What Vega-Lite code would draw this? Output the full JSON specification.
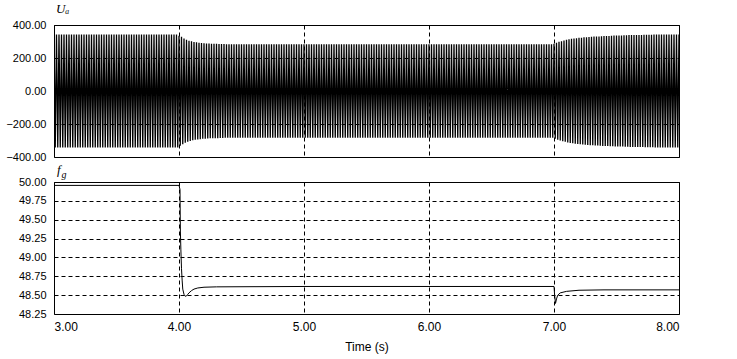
{
  "$schema": "https://vega.github.io/schema/vega-lite/v6.json",
  "background": "white",
  "padding": {"left": 5, "top": 2, "right": 5, "bottom": 2},
  "config": {
    "font": "Liberation Sans",
    "view": {"stroke": "black", "strokeWidth": 1},
    "axis": {"labelFont": "Liberation Sans", "labelFontSize": 11, "labelColor": "black", "ticks": false, "domain": false, "grid": true, "gridColor": "black", "gridDash": [4, 3], "gridOpacity": 1, "gridWidth": 1, "labelPadding": 8},
    "concat": {"spacing": 0}
  },
  "datasets": {
    "u": [
{"t":3.00,"u":342},{"t":3.01,"u":-342},{"t":3.02,"u":342},{"t":3.03,"u":-342},{"t":3.04,"u":342},{"t":3.05,"u":-342},{"t":3.06,"u":342},{"t":3.07,"u":-342},{"t":3.08,"u":342},{"t":3.09,"u":-342},
{"t":3.10,"u":342},{"t":3.11,"u":-342},{"t":3.12,"u":342},{"t":3.13,"u":-342},{"t":3.14,"u":342},{"t":3.15,"u":-342},{"t":3.16,"u":342},{"t":3.17,"u":-342},{"t":3.18,"u":342},{"t":3.19,"u":-342},
{"t":3.20,"u":342},{"t":3.21,"u":-342},{"t":3.22,"u":342},{"t":3.23,"u":-342},{"t":3.24,"u":342},{"t":3.25,"u":-342},{"t":3.26,"u":342},{"t":3.27,"u":-342},{"t":3.28,"u":342},{"t":3.29,"u":-342},
{"t":3.30,"u":342},{"t":3.31,"u":-342},{"t":3.32,"u":342},{"t":3.33,"u":-342},{"t":3.34,"u":342},{"t":3.35,"u":-342},{"t":3.36,"u":342},{"t":3.37,"u":-342},{"t":3.38,"u":342},{"t":3.39,"u":-342},
{"t":3.40,"u":342},{"t":3.41,"u":-342},{"t":3.42,"u":342},{"t":3.43,"u":-342},{"t":3.44,"u":342},{"t":3.45,"u":-342},{"t":3.46,"u":342},{"t":3.47,"u":-342},{"t":3.48,"u":342},{"t":3.49,"u":-342},
{"t":3.50,"u":342},{"t":3.51,"u":-342},{"t":3.52,"u":342},{"t":3.53,"u":-342},{"t":3.54,"u":342},{"t":3.55,"u":-342},{"t":3.56,"u":342},{"t":3.57,"u":-342},{"t":3.58,"u":342},{"t":3.59,"u":-342},
{"t":3.60,"u":342},{"t":3.61,"u":-342},{"t":3.62,"u":342},{"t":3.63,"u":-342},{"t":3.64,"u":342},{"t":3.65,"u":-342},{"t":3.66,"u":342},{"t":3.67,"u":-342},{"t":3.68,"u":342},{"t":3.69,"u":-342},
{"t":3.70,"u":342},{"t":3.71,"u":-342},{"t":3.72,"u":342},{"t":3.73,"u":-342},{"t":3.74,"u":342},{"t":3.75,"u":-342},{"t":3.76,"u":342},{"t":3.77,"u":-342},{"t":3.78,"u":342},{"t":3.79,"u":-342},
{"t":3.80,"u":342},{"t":3.81,"u":-342},{"t":3.82,"u":342},{"t":3.83,"u":-342},{"t":3.84,"u":342},{"t":3.85,"u":-342},{"t":3.86,"u":342},{"t":3.87,"u":-342},{"t":3.88,"u":342},{"t":3.89,"u":-342},
{"t":3.90,"u":342},{"t":3.91,"u":-342},{"t":3.92,"u":342},{"t":3.93,"u":-342},{"t":3.94,"u":342},{"t":3.95,"u":-342},{"t":3.96,"u":342},{"t":3.97,"u":-342},{"t":3.98,"u":342},{"t":3.99,"u":-342},
{"t":4.00,"u":335},{"t":4.01,"u":-332},{"t":4.02,"u":328},{"t":4.03,"u":-322},{"t":4.04,"u":318},{"t":4.05,"u":-314},{"t":4.06,"u":311},{"t":4.07,"u":-308},{"t":4.08,"u":305},{"t":4.09,"u":-303},
{"t":4.10,"u":301},{"t":4.11,"u":-299},{"t":4.12,"u":297},{"t":4.13,"u":-296},{"t":4.14,"u":295},{"t":4.15,"u":-294},{"t":4.16,"u":293},{"t":4.17,"u":-292},{"t":4.18,"u":291},{"t":4.19,"u":-290},
{"t":4.20,"u":289},{"t":4.21,"u":-289},{"t":4.22,"u":288},{"t":4.23,"u":-288},{"t":4.24,"u":288},{"t":4.25,"u":-287},{"t":4.26,"u":287},{"t":4.27,"u":-287},{"t":4.28,"u":286},{"t":4.29,"u":-286},
{"t":4.30,"u":286},{"t":4.31,"u":-286},{"t":4.32,"u":285},{"t":4.33,"u":-285},{"t":4.34,"u":285},{"t":4.35,"u":-285},{"t":4.36,"u":285},{"t":4.37,"u":-284},{"t":4.38,"u":284},{"t":4.39,"u":-284},
{"t":4.40,"u":284},{"t":4.41,"u":-284},{"t":4.42,"u":284},{"t":4.43,"u":-284},{"t":4.44,"u":284},{"t":4.45,"u":-284},{"t":4.46,"u":284},{"t":4.47,"u":-284},{"t":4.48,"u":284},{"t":4.49,"u":-284},
{"t":4.50,"u":284},{"t":4.51,"u":-284},{"t":4.52,"u":284},{"t":4.53,"u":-284},{"t":4.54,"u":284},{"t":4.55,"u":-284},{"t":4.56,"u":284},{"t":4.57,"u":-284},{"t":4.58,"u":284},{"t":4.59,"u":-284},
{"t":4.60,"u":284},{"t":4.61,"u":-284},{"t":4.62,"u":284},{"t":4.63,"u":-284},{"t":4.64,"u":284},{"t":4.65,"u":-284},{"t":4.66,"u":284},{"t":4.67,"u":-284},{"t":4.68,"u":284},{"t":4.69,"u":-284},
{"t":4.70,"u":284},{"t":4.71,"u":-284},{"t":4.72,"u":284},{"t":4.73,"u":-284},{"t":4.74,"u":284},{"t":4.75,"u":-284},{"t":4.76,"u":284},{"t":4.77,"u":-284},{"t":4.78,"u":284},{"t":4.79,"u":-284},
{"t":4.80,"u":284},{"t":4.81,"u":-284},{"t":4.82,"u":284},{"t":4.83,"u":-284},{"t":4.84,"u":284},{"t":4.85,"u":-284},{"t":4.86,"u":284},{"t":4.87,"u":-284},{"t":4.88,"u":284},{"t":4.89,"u":-284},
{"t":4.90,"u":284},{"t":4.91,"u":-284},{"t":4.92,"u":284},{"t":4.93,"u":-284},{"t":4.94,"u":284},{"t":4.95,"u":-284},{"t":4.96,"u":284},{"t":4.97,"u":-284},{"t":4.98,"u":284},{"t":4.99,"u":-284},
{"t":5.00,"u":284},{"t":5.01,"u":-284},{"t":5.02,"u":284},{"t":5.03,"u":-284},{"t":5.04,"u":284},{"t":5.05,"u":-284},{"t":5.06,"u":284},{"t":5.07,"u":-284},{"t":5.08,"u":284},{"t":5.09,"u":-284},
{"t":5.10,"u":284},{"t":5.11,"u":-284},{"t":5.12,"u":284},{"t":5.13,"u":-284},{"t":5.14,"u":284},{"t":5.15,"u":-284},{"t":5.16,"u":284},{"t":5.17,"u":-284},{"t":5.18,"u":284},{"t":5.19,"u":-284},
{"t":5.20,"u":284},{"t":5.21,"u":-284},{"t":5.22,"u":284},{"t":5.23,"u":-284},{"t":5.24,"u":284},{"t":5.25,"u":-284},{"t":5.26,"u":284},{"t":5.27,"u":-284},{"t":5.28,"u":284},{"t":5.29,"u":-284},
{"t":5.30,"u":284},{"t":5.31,"u":-284},{"t":5.32,"u":284},{"t":5.33,"u":-284},{"t":5.34,"u":284},{"t":5.35,"u":-284},{"t":5.36,"u":284},{"t":5.37,"u":-284},{"t":5.38,"u":284},{"t":5.39,"u":-284},
{"t":5.40,"u":284},{"t":5.41,"u":-284},{"t":5.42,"u":284},{"t":5.43,"u":-284},{"t":5.44,"u":284},{"t":5.45,"u":-284},{"t":5.46,"u":284},{"t":5.47,"u":-284},{"t":5.48,"u":284},{"t":5.49,"u":-284},
{"t":5.50,"u":284},{"t":5.51,"u":-284},{"t":5.52,"u":284},{"t":5.53,"u":-284},{"t":5.54,"u":284},{"t":5.55,"u":-284},{"t":5.56,"u":284},{"t":5.57,"u":-284},{"t":5.58,"u":284},{"t":5.59,"u":-284},
{"t":5.60,"u":284},{"t":5.61,"u":-284},{"t":5.62,"u":284},{"t":5.63,"u":-284},{"t":5.64,"u":284},{"t":5.65,"u":-284},{"t":5.66,"u":284},{"t":5.67,"u":-284},{"t":5.68,"u":284},{"t":5.69,"u":-284},
{"t":5.70,"u":284},{"t":5.71,"u":-284},{"t":5.72,"u":284},{"t":5.73,"u":-284},{"t":5.74,"u":284},{"t":5.75,"u":-284},{"t":5.76,"u":284},{"t":5.77,"u":-284},{"t":5.78,"u":284},{"t":5.79,"u":-284},
{"t":5.80,"u":284},{"t":5.81,"u":-284},{"t":5.82,"u":284},{"t":5.83,"u":-284},{"t":5.84,"u":284},{"t":5.85,"u":-284},{"t":5.86,"u":284},{"t":5.87,"u":-284},{"t":5.88,"u":284},{"t":5.89,"u":-284},
{"t":5.90,"u":284},{"t":5.91,"u":-284},{"t":5.92,"u":284},{"t":5.93,"u":-284},{"t":5.94,"u":284},{"t":5.95,"u":-284},{"t":5.96,"u":284},{"t":5.97,"u":-284},{"t":5.98,"u":284},{"t":5.99,"u":-284},
{"t":6.00,"u":284},{"t":6.01,"u":-284},{"t":6.02,"u":284},{"t":6.03,"u":-284},{"t":6.04,"u":284},{"t":6.05,"u":-284},{"t":6.06,"u":284},{"t":6.07,"u":-284},{"t":6.08,"u":284},{"t":6.09,"u":-284},
{"t":6.10,"u":284},{"t":6.11,"u":-284},{"t":6.12,"u":284},{"t":6.13,"u":-284},{"t":6.14,"u":284},{"t":6.15,"u":-284},{"t":6.16,"u":284},{"t":6.17,"u":-284},{"t":6.18,"u":284},{"t":6.19,"u":-284},
{"t":6.20,"u":284},{"t":6.21,"u":-284},{"t":6.22,"u":284},{"t":6.23,"u":-284},{"t":6.24,"u":284},{"t":6.25,"u":-284},{"t":6.26,"u":284},{"t":6.27,"u":-284},{"t":6.28,"u":284},{"t":6.29,"u":-284},
{"t":6.30,"u":284},{"t":6.31,"u":-284},{"t":6.32,"u":284},{"t":6.33,"u":-284},{"t":6.34,"u":284},{"t":6.35,"u":-284},{"t":6.36,"u":284},{"t":6.37,"u":-284},{"t":6.38,"u":284},{"t":6.39,"u":-284},
{"t":6.40,"u":284},{"t":6.41,"u":-284},{"t":6.42,"u":284},{"t":6.43,"u":-284},{"t":6.44,"u":284},{"t":6.45,"u":-284},{"t":6.46,"u":284},{"t":6.47,"u":-284},{"t":6.48,"u":284},{"t":6.49,"u":-284},
{"t":6.50,"u":284},{"t":6.51,"u":-284},{"t":6.52,"u":284},{"t":6.53,"u":-284},{"t":6.54,"u":284},{"t":6.55,"u":-284},{"t":6.56,"u":284},{"t":6.57,"u":-284},{"t":6.58,"u":284},{"t":6.59,"u":-284},
{"t":6.60,"u":284},{"t":6.61,"u":-284},{"t":6.62,"u":284},{"t":6.63,"u":-284},{"t":6.64,"u":284},{"t":6.65,"u":-284},{"t":6.66,"u":284},{"t":6.67,"u":-284},{"t":6.68,"u":284},{"t":6.69,"u":-284},
{"t":6.70,"u":284},{"t":6.71,"u":-284},{"t":6.72,"u":284},{"t":6.73,"u":-284},{"t":6.74,"u":284},{"t":6.75,"u":-284},{"t":6.76,"u":284},{"t":6.77,"u":-284},{"t":6.78,"u":284},{"t":6.79,"u":-284},
{"t":6.80,"u":284},{"t":6.81,"u":-284},{"t":6.82,"u":284},{"t":6.83,"u":-284},{"t":6.84,"u":284},{"t":6.85,"u":-284},{"t":6.86,"u":284},{"t":6.87,"u":-284},{"t":6.88,"u":284},{"t":6.89,"u":-284},
{"t":6.90,"u":284},{"t":6.91,"u":-284},{"t":6.92,"u":284},{"t":6.93,"u":-284},{"t":6.94,"u":284},{"t":6.95,"u":-284},{"t":6.96,"u":284},{"t":6.97,"u":-284},{"t":6.98,"u":284},{"t":6.99,"u":-284},
{"t":7.00,"u":286},{"t":7.01,"u":-289},{"t":7.02,"u":292},{"t":7.03,"u":-295},{"t":7.04,"u":298},{"t":7.05,"u":-300},{"t":7.06,"u":302},{"t":7.07,"u":-304},{"t":7.08,"u":306},{"t":7.09,"u":-308},
{"t":7.10,"u":311},{"t":7.11,"u":-312},{"t":7.12,"u":314},{"t":7.13,"u":-315},{"t":7.14,"u":316},{"t":7.15,"u":-317},{"t":7.16,"u":318},{"t":7.17,"u":-319},{"t":7.18,"u":320},{"t":7.19,"u":-321},
{"t":7.20,"u":322},{"t":7.21,"u":-323},{"t":7.22,"u":323},{"t":7.23,"u":-324},{"t":7.24,"u":325},{"t":7.25,"u":-325},{"t":7.26,"u":326},{"t":7.27,"u":-327},{"t":7.28,"u":327},{"t":7.29,"u":-328},
{"t":7.30,"u":329},{"t":7.31,"u":-329},{"t":7.32,"u":330},{"t":7.33,"u":-330},{"t":7.34,"u":331},{"t":7.35,"u":-331},{"t":7.36,"u":331},{"t":7.37,"u":-332},{"t":7.38,"u":332},{"t":7.39,"u":-333},
{"t":7.40,"u":333},{"t":7.41,"u":-333},{"t":7.42,"u":334},{"t":7.43,"u":-334},{"t":7.44,"u":334},{"t":7.45,"u":-335},{"t":7.46,"u":335},{"t":7.47,"u":-335},{"t":7.48,"u":336},{"t":7.49,"u":-336},
{"t":7.50,"u":336},{"t":7.51,"u":-336},{"t":7.52,"u":337},{"t":7.53,"u":-337},{"t":7.54,"u":337},{"t":7.55,"u":-337},{"t":7.56,"u":338},{"t":7.57,"u":-338},{"t":7.58,"u":338},{"t":7.59,"u":-338},
{"t":7.60,"u":339},{"t":7.61,"u":-339},{"t":7.62,"u":339},{"t":7.63,"u":-339},{"t":7.64,"u":339},{"t":7.65,"u":-340},{"t":7.66,"u":340},{"t":7.67,"u":-340},{"t":7.68,"u":340},{"t":7.69,"u":-340},
{"t":7.70,"u":340},{"t":7.71,"u":-340},{"t":7.72,"u":341},{"t":7.73,"u":-341},{"t":7.74,"u":341},{"t":7.75,"u":-341},{"t":7.76,"u":341},{"t":7.77,"u":-341},{"t":7.78,"u":341},{"t":7.79,"u":-341},
{"t":7.80,"u":342},{"t":7.81,"u":-342},{"t":7.82,"u":342},{"t":7.83,"u":-342},{"t":7.84,"u":342},{"t":7.85,"u":-342},{"t":7.86,"u":342},{"t":7.87,"u":-342},{"t":7.88,"u":342},{"t":7.89,"u":-342},
{"t":7.90,"u":342},{"t":7.91,"u":-342},{"t":7.92,"u":342},{"t":7.93,"u":-342},{"t":7.94,"u":342},{"t":7.95,"u":-342},{"t":7.96,"u":342},{"t":7.97,"u":-342},{"t":7.98,"u":342},{"t":7.99,"u":-342},
{"t":8.00,"u":342}
    ],
    "f": [
{"t":3.00,"f":49.955},{"t":4.00,"f":49.955},{"t":4.008,"f":49.9},{"t":4.011,"f":49.35},{"t":4.015,"f":49.1},{"t":4.02,"f":48.85},{"t":4.025,"f":48.7},{"t":4.03,"f":48.58},{"t":4.04,"f":48.51},{"t":4.05,"f":48.485},{"t":4.06,"f":48.49},{"t":4.07,"f":48.51},{"t":4.08,"f":48.53},{"t":4.10,"f":48.56},{"t":4.12,"f":48.58},{"t":4.15,"f":48.595},{"t":4.20,"f":48.605},{"t":4.30,"f":48.61},{"t":5.00,"f":48.615},{"t":6.00,"f":48.615},{"t":7.00,"f":48.615},{"t":7.005,"f":48.5},{"t":7.012,"f":48.39},{"t":7.02,"f":48.45},{"t":7.03,"f":48.5},{"t":7.05,"f":48.53},{"t":7.10,"f":48.55},{"t":7.20,"f":48.565},{"t":7.40,"f":48.57},{"t":8.00,"f":48.57}
    ]
  },
  "vconcat": [
    {
      "width": 625,
      "height": 132,
      "data": {"name": "u"},
      "title": {"text": "Uₐ", "anchor": "start", "frame": "group", "fontStyle": "italic", "fontWeight": "normal", "fontSize": 13, "font": "Liberation Serif", "offset": 3, "dx": 2},
      "mark": {"type": "line", "color": "black", "strokeWidth": 1.3, "clip": true},
      "encoding": {
        "x": {"field": "t", "type": "quantitative", "scale": {"domain": [3, 8], "nice": false}, "axis": {"values": [3, 4, 5, 6, 7, 8], "labels": false, "title": null, "zindex": 1}},
        "y": {"field": "u", "type": "quantitative", "scale": {"domain": [-400, 400], "nice": false}, "axis": {"values": [-400, -200, 0, 200, 400], "format": ".2f", "title": null}}
      }
    },
    {
      "width": 625,
      "height": 132,
      "data": {"name": "f"},
      "title": {"text": "f", "anchor": "start", "frame": "group", "fontStyle": "italic", "fontWeight": "normal", "fontSize": 13, "font": "Liberation Serif", "offset": -8, "dx": 3},
      "mark": {"type": "line", "color": "black", "strokeWidth": 1, "clip": true},
      "encoding": {
        "x": {"field": "t", "type": "quantitative", "scale": {"domain": [3, 8], "nice": false}, "axis": {"values": [3, 4, 5, 6, 7, 8], "format": ".2f", "title": "Time (s)", "titleFontWeight": "normal", "titleFontSize": 12, "titleFont": "Liberation Sans", "titleColor": "black", "titlePadding": 9, "labelPadding": 7, "labelFontSize": 12, "zindex": 1}},
        "y": {"field": "f", "type": "quantitative", "scale": {"domain": [48.25, 50], "nice": false, "zero": false}, "axis": {"values": [48.25, 48.5, 48.75, 49, 49.25, 49.5, 49.75, 50], "format": ".2f", "title": "g", "titleAngle": 0, "titleX": 7, "titleY": -5, "titleAlign": "left", "titleBaseline": "alphabetic", "titleFontSize": 10, "titleFontStyle": "italic", "titleFontWeight": "normal", "titleFont": "Liberation Serif", "titleColor": "black"}}
      }
    }
  ]
}
